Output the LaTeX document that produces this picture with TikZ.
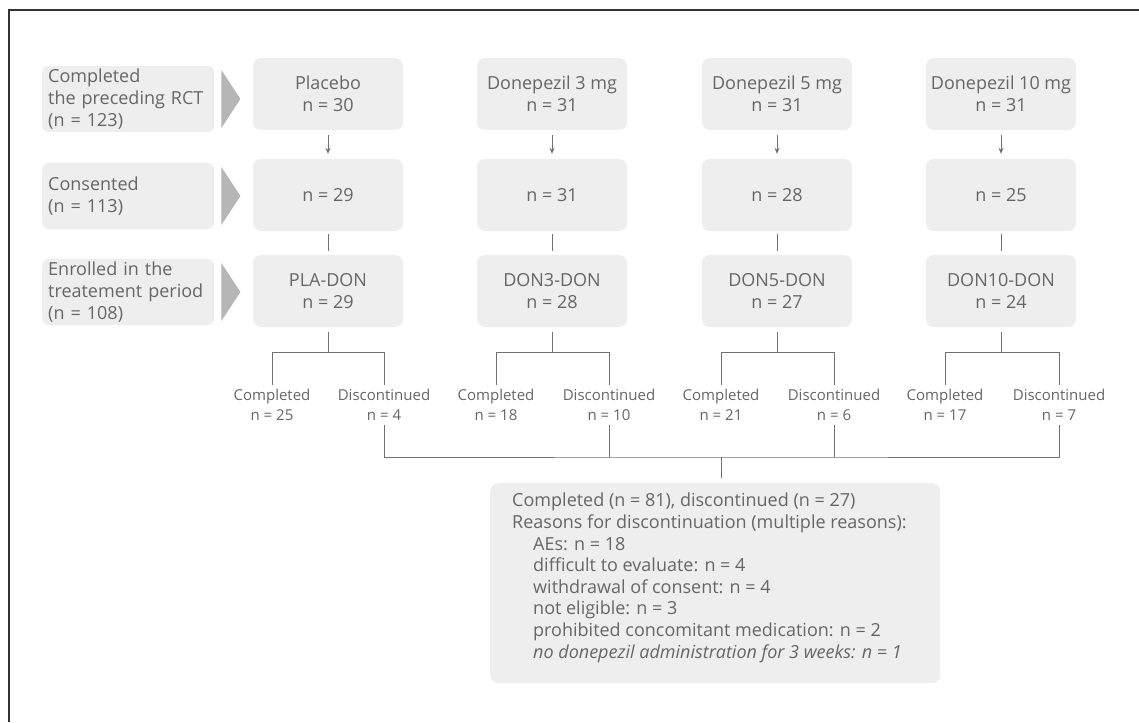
\documentclass[tikz,border=0pt]{standalone}
\usepackage{fontspec}
\setmainfont{Open Sans}
\usetikzlibrary{arrows.meta}
\definecolor{txtgray}{HTML}{666666}
\definecolor{boxgray}{HTML}{EEEEEE}
\definecolor{chevgray}{HTML}{B6B6B6}
\definecolor{linegray}{HTML}{707070}
\begin{document}
\begin{tikzpicture}[x=1pt,y=-1pt]
\tikzstyle{side} = [fill=boxgray,text=txtgray,align=left,anchor=west,text width=160pt,minimum height=66pt,inner xsep=6pt,inner ysep=0pt,rounded corners=6pt,font=\fontsize{18}{21.6}\selectfont]
\tikzstyle{grp} = [fill=boxgray,text=txtgray,align=center,minimum width=150pt,minimum height=72pt,inner sep=0pt,rounded corners=8pt,font=\fontsize{18}{21.6}\selectfont]
\tikzstyle{sub} = [text=txtgray,align=center,inner sep=2pt,font=\fontsize{15}{20}\selectfont]
\tikzstyle{summ} = [fill=boxgray,text=txtgray,inner xsep=22pt,inner ysep=10pt,rounded corners=8pt,font=\fontsize{18}{21.6}\selectfont]
\tikzstyle{conn} = [draw=linegray,line width=0.9pt]
\useasboundingbox (0,0) rectangle (1139,722);

\draw[line width=1.6pt,black!80] (9,722) -- (9,10) -- (1139,10);

\node[side] (lab1) at (42,99) {Completed\\the preceding RCT\\(n = 123)};
\node[side] (lab2) at (42,196) {Consented\\(n = 113)};
\node[side] (lab3) at (42,292) {Enrolled in the\\treatement period\\(n = 108)};
\foreach \i in {1,2,3}
  \fill[chevgray] ([xshift=7pt]lab\i.east) ++(0,-29) -- ++(19,29) -- ++(-19,29) -- cycle;

\node[grp] (pltop) at (328,94) {Placebo\\n = 30};
\node[grp] (plmid) at (328,195) {n = 29};
\node[grp] (plbot) at (328,291) {PLA-DON\\n = 29};
\node[grp] (d3top) at (552,94) {Donepezil 3 mg\\n = 31};
\node[grp] (d3mid) at (552,195) {n = 31};
\node[grp] (d3bot) at (552,291) {DON3-DON\\n = 28};
\node[grp] (d5top) at (777,94) {Donepezil 5 mg\\n = 31};
\node[grp] (d5mid) at (777,195) {n = 28};
\node[grp] (d5bot) at (777,291) {DON5-DON\\n = 27};
\node[grp] (d10top) at (1001,94) {Donepezil 10 mg\\n = 31};
\node[grp] (d10mid) at (1001,195) {n = 25};
\node[grp] (d10bot) at (1001,291) {DON10-DON\\n = 24};

\node[sub] (plcomp) at (272,405) {Completed\\n = 25};
\node[sub] (pldisc) at (384,405) {Discontinued\\n = 4};
\node[sub] (d3comp) at (496,405) {Completed\\n = 18};
\node[sub] (d3disc) at (609,405) {Discontinued\\n = 10};
\node[sub] (d5comp) at (721,405) {Completed\\n = 21};
\node[sub] (d5disc) at (834,405) {Discontinued\\n = 6};
\node[sub] (d10comp) at (945,405) {Completed\\n = 17};
\node[sub] (d10disc) at (1059,405) {Discontinued\\n = 7};

\node[summ,anchor=north west] (total) at (490,483) {\parbox[t][180pt][t]{406pt}{\raggedright
Completed (n = 81), discontinued (n = 27)\\
Reasons for discontinuation (multiple reasons):\\
\hspace*{21pt}AEs: n = 18\\
\hspace*{21pt}difficult to evaluate: n = 4\\
\hspace*{21pt}withdrawal of consent: n = 4\\
\hspace*{21pt}not eligible: n = 3\\
\hspace*{21pt}prohibited concomitant medication: n = 2\\
\hspace*{21pt}\textit{no donepezil administration for 3 weeks: n = 1}}};

\foreach \c in {pl,d3,d5,d10} {
  \draw[conn,-{Stealth[length=6pt,width=5pt]},shorten <=5pt,shorten >=5pt] (\c top) -- (\c mid);
  \draw[conn,shorten <=3pt,shorten >=4pt] (\c mid) -- (\c bot);
  \coordinate (\c j) at ([yshift=-25pt]\c bot.south);
  \draw[conn,shorten <=5pt] (\c bot) -- (\c j);
  \draw[conn,shorten <=2pt,shorten >=2pt] (\c comp.north) |- (\c j) -| (\c disc.north);
}
\coordinate (bus) at (721,457);
\draw[conn,shorten <=2pt,shorten >=2pt] (pldisc.south) |- (bus) -| (d10disc.south);
\draw[conn,shorten <=2pt] (d3disc.south) -- (d3disc.south |- bus);
\draw[conn,shorten <=2pt] (d5disc.south) -- (d5disc.south |- bus);
\draw[conn,shorten >=5pt] (bus) -- (bus |- total.north);
\end{tikzpicture}
\end{document}
